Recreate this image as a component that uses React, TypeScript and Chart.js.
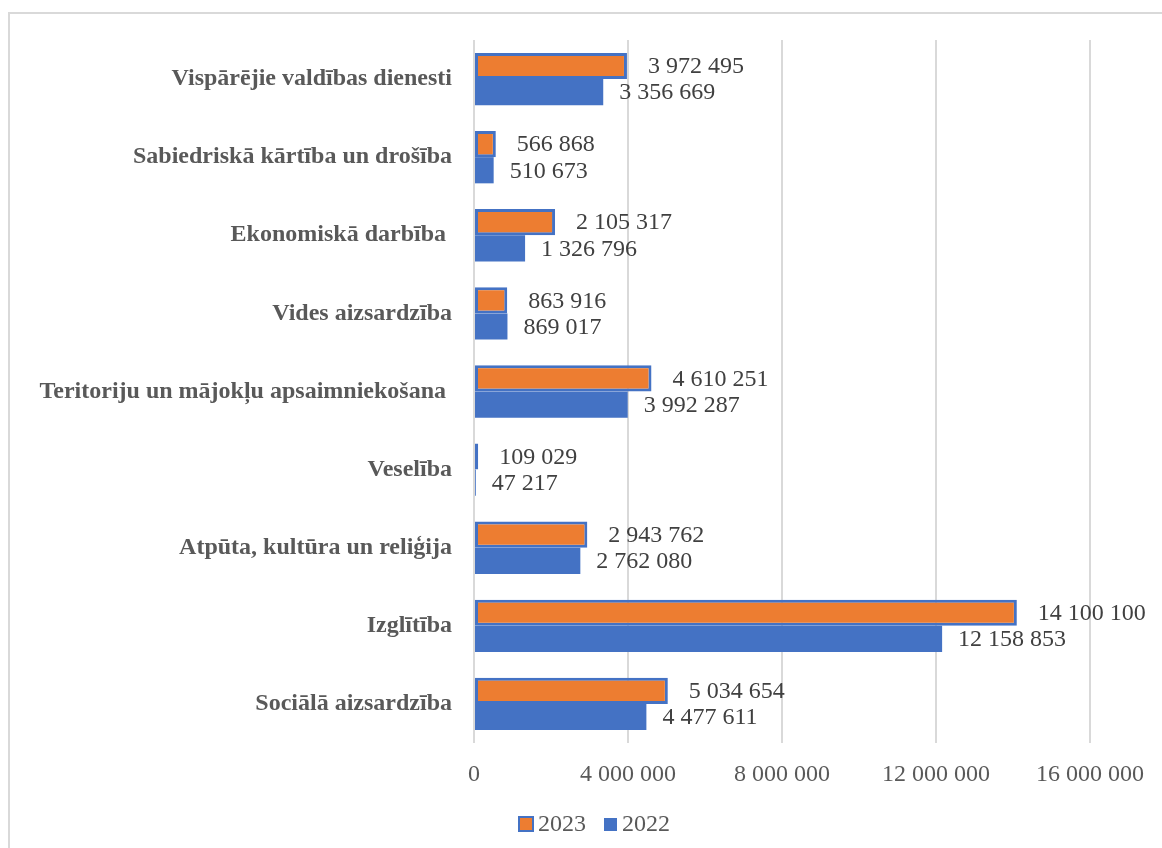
import React, { useEffect, useRef } from "react";
import { Chart, registerables } from "chart.js";

Chart.register(...registerables);

const categories = [
  "Vispārējie valdības dienesti",
  "Sabiedriskā kārtība un drošība",
  "Ekonomiskā darbība ",
  "Vides aizsardzība",
  "Teritoriju un mājokļu apsaimniekošana ",
  "Veselība",
  "Atpūta, kultūra un reliģija",
  "Izglītība",
  "Sociālā aizsardzība",
];

const values2023 = [3972495, 566868, 2105317, 863916, 4610251, 109029, 2943762, 14100100, 5034654];
const values2022 = [3356669, 510673, 1326796, 869017, 3992287, 47217, 2762080, 12158853, 4477611];

const seriesNames = ["2023", "2022"];
const xTicks = [0, 4000000, 8000000, 12000000, 16000000];

const ORANGE = "#ED7D31";
const BLUE = "#4472C4";
const TEXT = "#595959";
const LABEL = "#404040";
const SERIF = "'Liberation Serif', 'Times New Roman', serif";

const fmt = (n: number) => String(Math.round(n)).replace(/\B(?=(\d{3})+(?!\d))/g, " ");

const framePlugin = {
  id: "frame",
  beforeDraw(chart: any) {
    const ctx = chart.ctx;
    ctx.save();
    ctx.strokeStyle = "#d9d9d9";
    ctx.lineWidth = 2;
    ctx.strokeRect(9, 13, 1300, 1000);
    ctx.restore();
  },
};

const labelPlugin = {
  id: "barLabels",
  afterDatasetsDraw(chart: any) {
    const ctx = chart.ctx;
    ctx.save();
    ctx.font = `24px ${SERIF}`;
    ctx.fillStyle = LABEL;
    ctx.textAlign = "left";
    ctx.textBaseline = "middle";
    chart.data.datasets.forEach((ds: any, di: number) => {
      const meta = chart.getDatasetMeta(di);
      const off = di === 0 ? 21 : 16;
      meta.data.forEach((bar: any, i: number) => {
        ctx.fillText(fmt(ds.data[i]), bar.x + off, bar.y + 1);
      });
    });
    ctx.restore();
  },
};

const legendPlugin = {
  id: "customLegend",
  afterDraw(chart: any) {
    const ctx = chart.ctx;
    ctx.save();
    const y = 824;
    ctx.fillStyle = ORANGE;
    ctx.fillRect(519, 817, 14, 14);
    ctx.strokeStyle = BLUE;
    ctx.lineWidth = 2;
    ctx.strokeRect(519, 817, 14, 14);
    ctx.font = `24px ${SERIF}`;
    ctx.fillStyle = TEXT;
    ctx.textBaseline = "middle";
    ctx.textAlign = "left";
    ctx.fillText(seriesNames[0], 538, y + 1);
    ctx.fillStyle = BLUE;
    ctx.fillRect(604, 818, 13, 13);
    ctx.fillStyle = TEXT;
    ctx.fillText(seriesNames[1], 622, y + 1);
    ctx.restore();
  },
};

export default function App() {
  const ref = useRef<HTMLCanvasElement>(null);
  useEffect(() => {
    if (!ref.current) return;
    const chart = new Chart(ref.current, {
      type: "bar",
      data: {
        labels: categories,
        datasets: [
          {
            label: seriesNames[0],
            data: values2023,
            backgroundColor: ORANGE,
            borderColor: BLUE,
            borderWidth: 3,
            borderSkipped: false,
            categoryPercentage: 0.67,
            barPercentage: 1,
          },
          {
            label: seriesNames[1],
            data: values2022,
            backgroundColor: BLUE,
            borderWidth: 0,
            categoryPercentage: 0.67,
            barPercentage: 1,
          },
        ],
      },
      options: {
        indexAxis: "y",
        responsive: false,
        animation: false,
        layout: { padding: { top: 40, right: 72, bottom: 0, left: 0 } },
        plugins: {
          legend: { display: false },
          tooltip: { enabled: false },
        },
        scales: {
          x: {
            min: 0,
            max: 16000000,
            afterBuildTicks: (scale: any) => {
              scale.ticks = xTicks.map((v) => ({ value: v }));
            },
            afterFit: (scale: any) => {
              scale.height = 105;
            },
            grid: { color: "#d9d9d9", lineWidth: 2, drawTicks: false },
            border: { display: false },
            ticks: {
              padding: 17,
              color: TEXT,
              font: { family: SERIF, size: 24 },
              callback: (v: any) => fmt(Number(v)),
            },
          },
          y: {
            afterFit: (scale: any) => {
              scale.width = 474;
            },
            grid: { display: false, drawTicks: false },
            border: { display: false },
            ticks: {
              autoSkip: false,
              padding: 22,
              color: TEXT,
              font: { family: SERIF, size: 24, weight: "bold" },
            },
          },
        },
      },
      plugins: [framePlugin, labelPlugin, legendPlugin],
    });
    return () => chart.destroy();
  }, []);
  return (
    <div style={{ position: "absolute", left: 0, top: 0, width: 1162, height: 848, background: "#fff" }}>
      <canvas ref={ref} width={1162} height={848} style={{ display: "block" }} />
    </div>
  );
}
